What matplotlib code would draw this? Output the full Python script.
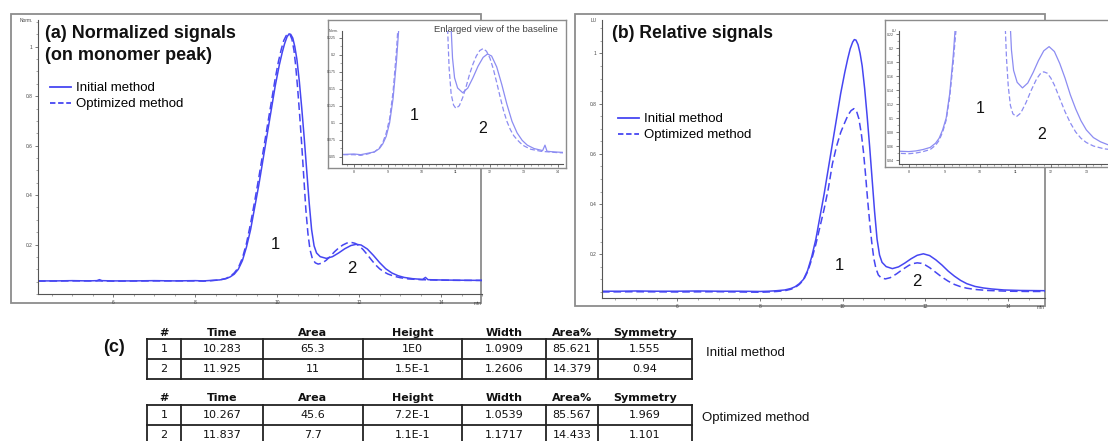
import matplotlib
matplotlib.use("Agg")
import matplotlib.pyplot as plt
from matplotlib.lines import Line2D
from matplotlib.patches import Rectangle
from matplotlib.ticker import MultipleLocator

plt.rcParams['font.family'] = ['Liberation Sans', 'DejaVu Sans']

# ---------------- chromatogram data (time in min, signal) ----------------
# (a) signals normalized on the monomer peak
time_a_initial = [4.16, 4.6, 5.0, 5.4, 5.6, 5.66, 5.72, 6.0, 6.5, 7.0, 7.5, 8.0, 8.2, 8.4,
                  8.6, 8.75, 8.85, 8.95, 9.05, 9.15, 9.25, 9.35, 9.45, 9.55, 9.65, 9.75,
                  9.85, 9.95, 10.05, 10.12, 10.18, 10.24, 10.29, 10.33, 10.38, 10.43,
                  10.48, 10.54, 10.6, 10.66, 10.72, 10.78, 10.84, 10.9, 10.96, 11.05,
                  11.2, 11.35, 11.5, 11.65, 11.8, 11.93, 12.05, 12.2, 12.35, 12.5, 12.65,
                  12.8, 12.95, 13.1, 13.3, 13.55, 13.62, 13.68, 13.9, 14.3, 15.0]
signal_a_initial = [0.053, 0.053, 0.054, 0.053, 0.054, 0.058, 0.054, 0.053, 0.053, 0.054,
                    0.053, 0.054, 0.053, 0.055, 0.057, 0.062, 0.069, 0.080, 0.100, 0.135,
                    0.190, 0.260, 0.350, 0.440, 0.540, 0.640, 0.740, 0.840, 0.925, 0.975,
                    1.012, 1.040, 1.052, 1.050, 1.035, 1.000, 0.950, 0.860, 0.750, 0.630,
                    0.500, 0.370, 0.260, 0.195, 0.166, 0.151, 0.144, 0.151, 0.166, 0.183,
                    0.196, 0.201, 0.198, 0.182, 0.156, 0.127, 0.102, 0.085, 0.074, 0.067,
                    0.062, 0.059, 0.067, 0.058, 0.057, 0.056, 0.055]

time_a_optimized = [4.16, 5.0, 5.6, 6.0, 7.0, 8.0, 8.2, 8.4, 8.6, 8.75, 8.85, 8.95, 9.05,
                    9.15, 9.25, 9.35, 9.45, 9.55, 9.65, 9.75, 9.85, 9.95, 10.03, 10.1,
                    10.16, 10.22, 10.27, 10.31, 10.36, 10.41, 10.45, 10.5, 10.55, 10.6,
                    10.65, 10.7, 10.75, 10.8, 10.86, 10.93, 11.0, 11.1, 11.2, 11.3, 11.4,
                    11.5, 11.6, 11.7, 11.8, 11.9, 12.0, 12.1, 12.2, 12.3, 12.4, 12.5,
                    12.6, 12.7, 12.8, 12.9, 13.0, 13.2, 13.5, 14.0, 14.5, 15.0]
signal_a_optimized = [0.052, 0.053, 0.053, 0.052, 0.053, 0.053, 0.052, 0.054, 0.057, 0.063,
                      0.071, 0.085, 0.106, 0.145, 0.205, 0.285, 0.375, 0.470, 0.570, 0.670,
                      0.770, 0.870, 0.940, 0.990, 1.025, 1.045, 1.052, 1.050, 1.030, 0.985,
                      0.925, 0.830, 0.720, 0.600, 0.470, 0.340, 0.245, 0.180, 0.142, 0.126,
                      0.121, 0.125, 0.137, 0.153, 0.171, 0.186, 0.198, 0.206, 0.209, 0.205,
                      0.195, 0.179, 0.159, 0.138, 0.118, 0.102, 0.090, 0.081, 0.075, 0.070,
                      0.066, 0.061, 0.058, 0.056, 0.055, 0.055]

# (b) relative signals
time_b_initial = [4.18, 4.6, 5.0, 5.5, 6.0, 6.5, 7.0, 7.5, 8.0, 8.2, 8.4, 8.6, 8.75, 8.85,
                  8.95, 9.05, 9.15, 9.25, 9.35, 9.45, 9.55, 9.65, 9.75, 9.85, 9.95, 10.05,
                  10.12, 10.18, 10.24, 10.28, 10.32, 10.37, 10.42, 10.47, 10.53, 10.59,
                  10.65, 10.71, 10.77, 10.83, 10.89, 10.95, 11.05, 11.2, 11.35, 11.5,
                  11.65, 11.8, 11.95, 12.1, 12.25, 12.4, 12.55, 12.7, 12.85, 13.0, 13.2,
                  13.4, 13.6, 13.9, 14.3, 14.9]
signal_b_initial = [0.053, 0.053, 0.054, 0.053, 0.053, 0.054, 0.053, 0.053, 0.052, 0.053,
                    0.055, 0.058, 0.064, 0.071, 0.083, 0.100, 0.135, 0.190, 0.260, 0.350,
                    0.440, 0.540, 0.640, 0.740, 0.840, 0.925, 0.978, 1.018, 1.045, 1.055,
                    1.053, 1.035, 1.000, 0.950, 0.860, 0.750, 0.630, 0.500, 0.370, 0.260,
                    0.197, 0.168, 0.151, 0.143, 0.150, 0.165, 0.182, 0.196, 0.202, 0.195,
                    0.178, 0.157, 0.133, 0.113, 0.096, 0.083, 0.072, 0.066, 0.062, 0.058,
                    0.056, 0.055]

time_b_optimized = [4.18, 5.0, 6.0, 7.0, 8.0, 8.2, 8.4, 8.6, 8.75, 8.85, 8.95, 9.05, 9.15,
                    9.25, 9.35, 9.45, 9.55, 9.65, 9.75, 9.85, 9.95, 10.05, 10.13, 10.2,
                    10.27, 10.33, 10.39, 10.45, 10.5, 10.55, 10.6, 10.65, 10.7, 10.75, 10.8,
                    10.86, 10.93, 11.03, 11.15, 11.3, 11.45, 11.6, 11.7, 11.8, 11.9, 12.0,
                    12.1, 12.25, 12.4, 12.55, 12.7, 12.85, 13.0, 13.2, 13.5, 14.0, 14.5,
                    14.9]
signal_b_optimized = [0.050, 0.051, 0.050, 0.051, 0.049, 0.050, 0.052, 0.055, 0.061, 0.068,
                      0.080, 0.097, 0.130, 0.180, 0.240, 0.310, 0.380, 0.460, 0.560, 0.630,
                      0.685, 0.725, 0.755, 0.772, 0.780, 0.772, 0.740, 0.680, 0.610, 0.520,
                      0.420, 0.330, 0.250, 0.185, 0.145, 0.118, 0.106, 0.102, 0.107, 0.122,
                      0.140, 0.156, 0.163, 0.166, 0.164, 0.157, 0.147, 0.128, 0.109, 0.093,
                      0.080, 0.071, 0.065, 0.060, 0.056, 0.053, 0.052, 0.052]

# (c) peak tables
table_headers = ["#", "Time", "Area", "Height", "Width", "Area%", "Symmetry"]
rows_initial = [["1", "10.283", "65.3", "1E0", "1.0909", "85.621", "1.555"],
                ["2", "11.925", "11", "1.5E-1", "1.2606", "14.379", "0.94"]]
rows_optimized = [["1", "10.267", "45.6", "7.2E-1", "1.0539", "85.567", "1.969"],
                  ["2", "11.837", "7.7", "1.1E-1", "1.1717", "14.433", "1.101"]]
method_labels = ["Initial method", "Optimized method"]

# ---------------- layout helpers ----------------
W, H = 1108, 441
fig = plt.figure(figsize=(W / 100, H / 100), dpi=100)
fig.patch.set_facecolor('white')


def fbox(l, t, r, b):
    return [l / W, 1 - b / H, (r - l) / W, (b - t) / H]


MAIN_BLUE = '#4646f2'
INSET_BLUE = '#8c8cf2'
FRAME_GRAY = '#8c8c8c'

# background layer in pixel coordinates: panel frames, titles, table
bg = fig.add_axes([0, 0, 1, 1])
bg.set_xlim(0, W)
bg.set_ylim(H, 0)
bg.axis('off')
bg.set_zorder(0)

bg.add_patch(Rectangle((11, 14), 470, 289, fill=False, ec=FRAME_GRAY, lw=1.3))
bg.add_patch(Rectangle((575, 14), 470, 292, fill=False, ec=FRAME_GRAY, lw=1.3))


def style_chrom_axes(ax, xlim, ylim, xmajor, xminor, ymajor, yminor, ylabels, ytop_label,
                     fs, xlabels=None, minlabel=True):
    ax.set_facecolor('none')
    ax.set_xlim(*xlim)
    ax.set_ylim(*ylim)
    for s in ('top', 'right'):
        ax.spines[s].set_visible(False)
    for s in ('left', 'bottom'):
        ax.spines[s].set_color('#555555')
        ax.spines[s].set_linewidth(0.8)
    ax.set_xticks(xmajor)
    ax.set_xticklabels(xlabels if xlabels is not None else [str(v) for v in xmajor])
    ax.xaxis.set_minor_locator(MultipleLocator(xminor))
    ax.set_yticks(ymajor)
    ax.set_yticklabels(ylabels)
    ax.yaxis.set_minor_locator(MultipleLocator(yminor))
    ax.tick_params(which='major', direction='out', length=2.5, width=0.5,
                   labelsize=fs, colors='#444444', pad=1.5)
    ax.tick_params(which='minor', direction='out', length=1.5, width=0.4, colors='#666666')
    ax.text(-0.012, 1.0, ytop_label, transform=ax.transAxes, ha='right', va='center',
            fontsize=fs, color='#444444')
    if minlabel:
        ax.text(1.0, -0.025, 'min', transform=ax.transAxes, ha='right', va='top',
                fontsize=fs, color='#444444')


leg_handles = [Line2D([], [], color=MAIN_BLUE, lw=1.3),
               Line2D([], [], color=MAIN_BLUE, lw=1.3, dashes=(3, 1.5))]
leg_style = dict(loc='upper left', bbox_transform=fig.transFigure, frameon=False,
                 fontsize=9.5, handlelength=1.6, handletextpad=0.4, labelspacing=0.3,
                 borderpad=0, borderaxespad=0)

# ---------------- panel (a) ----------------
axa = fig.add_axes(fbox(38, 20, 482, 294))
axa.set_zorder(1)
axa.plot(time_a_initial, signal_a_initial, color=MAIN_BLUE, lw=1.1)
axa.plot(time_a_optimized, signal_a_optimized, color=MAIN_BLUE, lw=1.1, dashes=(5, 2.5))
style_chrom_axes(axa, (4.16, 15.0), (0, 1.108), [6, 8, 10, 12, 14], 0.5,
                 [0.2, 0.4, 0.6, 0.8, 1.0], 0.05, ['0.2', '0.4', '0.6', '0.8', '1'],
                 'Norm.', 3.5)
axa.text(9.95, 0.2, '1', fontsize=12, ha='center', va='center', color='#111111')
axa.text(11.83, 0.105, '2', fontsize=12, ha='center', va='center', color='#111111')

bg.text(45, 33, '(a) Normalized signals', fontsize=13, fontweight='bold',
        ha='left', va='center', color='#111111')
bg.text(45, 56, '(on monomer peak)', fontsize=13, fontweight='bold',
        ha='left', va='center', color='#111111')
axa.legend(leg_handles, method_labels, bbox_to_anchor=(50 / W, 1 - 82 / H), **leg_style)

# inset (a)
fa = fig.add_axes(fbox(328, 20, 566, 168))
fa.set_zorder(2)
fa.set_xticks([])
fa.set_yticks([])
fa.set_facecolor('white')
for s in fa.spines.values():
    s.set_color(FRAME_GRAY)
    s.set_linewidth(1.0)

ia = fig.add_axes(fbox(341.7, 31, 563, 164))
ia.set_zorder(3)
ia.plot(time_a_initial, signal_a_initial, color=INSET_BLUE, lw=0.9)
ia.plot(time_a_optimized, signal_a_optimized, color=INSET_BLUE, lw=0.9, dashes=(4, 2))
style_chrom_axes(ia, (7.64, 14.15), (0.0393, 0.2348), [8, 9, 10, 11, 12, 13, 14], 0.2,
                 [0.05, 0.075, 0.1, 0.125, 0.15, 0.175, 0.2, 0.225], 0.0125,
                 ['0.05', '0.075', '0.1', '0.125', '0.15', '0.175', '0.2', '0.225'],
                 'Norm.', 2.6, minlabel=False)
ia.text(9.76, 0.111, '1', fontsize=11.5, ha='center', va='center', color='#111111')
ia.text(11.79, 0.092, '2', fontsize=11.5, ha='center', va='center', color='#111111')
fa.text(0.965, 0.935, 'Enlarged view of the baseline', transform=fa.transAxes,
        fontsize=6.8, ha='right', va='center', color='#444444', zorder=5)

# ---------------- panel (b) ----------------
axb = fig.add_axes(fbox(602, 20, 1045, 298))
axb.set_zorder(1)
axb.plot(time_b_initial, signal_b_initial, color=MAIN_BLUE, lw=1.1)
axb.plot(time_b_optimized, signal_b_optimized, color=MAIN_BLUE, lw=1.1, dashes=(5, 2.5))
style_chrom_axes(axb, (4.18, 14.89), (0.026, 1.133), [6, 8, 10, 12, 14], 0.5,
                 [0.2, 0.4, 0.6, 0.8, 1.0], 0.05, ['0.2', '0.4', '0.6', '0.8', '1'],
                 'LU', 3.5)
axb.text(9.92, 0.157, '1', fontsize=12, ha='center', va='center', color='#111111')
axb.text(11.79, 0.093, '2', fontsize=12, ha='center', va='center', color='#111111')

bg.text(612, 34, '(b) Relative signals', fontsize=12.7, fontweight='bold',
        ha='left', va='center', color='#111111')
axb.legend(leg_handles, method_labels, bbox_to_anchor=(618 / W, 1 - 113 / H), **leg_style)

# inset (b)
fb = fig.add_axes(fbox(885, 20, 1125, 167))
fb.set_zorder(2)
fb.set_xticks([])
fb.set_yticks([])
fb.set_facecolor('white')
for s in fb.spines.values():
    s.set_color(FRAME_GRAY)
    s.set_linewidth(1.0)

ib = fig.add_axes(fbox(899, 31, 1125, 164))
ib.set_zorder(3)
ib.plot(time_b_initial, signal_b_initial, color=INSET_BLUE, lw=0.9)
ib.plot(time_b_optimized, signal_b_optimized, color=INSET_BLUE, lw=0.9, dashes=(4, 2))
style_chrom_axes(ib, (7.72, 14.09), (0.0343, 0.2243), [8, 9, 10, 11, 12, 13], 0.2,
                 [0.04, 0.06, 0.08, 0.1, 0.12, 0.14, 0.16, 0.18, 0.2, 0.22], 0.01,
                 ['0.04', '0.06', '0.08', '0.1', '0.12', '0.14', '0.16', '0.18', '0.2',
                  '0.22'], 'LU', 2.6, minlabel=False)
ib.text(10.0, 0.114, '1', fontsize=11.5, ha='center', va='center', color='#111111')
ib.text(11.75, 0.076, '2', fontsize=11.5, ha='center', va='center', color='#111111')

# ---------------- panel (c): peak tables ----------------
col_edges = [147, 181, 263, 363, 462, 546, 598, 692]
col_centers = [(a + b) / 2 for a, b in zip(col_edges[:-1], col_edges[1:])]
LINE_C = '#222222'


def draw_table(header_y, top, mid, bottom, rows):
    for cx, h in zip(col_centers, table_headers):
        bg.text(cx, header_y, h, fontsize=8, fontweight='bold', family='DejaVu Sans',
                ha='center', va='center', color='#111111')
    for y in (top, mid, bottom):
        bg.plot([col_edges[0], col_edges[-1]], [y, y], color=LINE_C, lw=1.3,
                solid_capstyle='projecting')
    for x in col_edges:
        bg.plot([x, x], [top, bottom], color=LINE_C, lw=1.3)
    row_centers = [(top + mid) / 2, (mid + bottom) / 2]
    for ry, row in zip(row_centers, rows):
        for cx, val in zip(col_centers, row):
            bg.text(cx, ry + 0.5, val, fontsize=8, family='DejaVu Sans',
                    ha='center', va='center', color='#111111')


draw_table(333, 339, 359, 379, rows_initial)
draw_table(398, 405, 424.5, 444, rows_optimized)
bg.set_xlim(0, W)
bg.set_ylim(H, 0)

bg.text(103, 348, '(c)', fontsize=13, fontweight='bold', ha='left', va='center',
        color='#111111')
bg.text(706, 353, method_labels[0], fontsize=9.5, ha='left', va='center', color='#111111')
bg.text(702, 418, method_labels[1], fontsize=9.5, ha='left', va='center', color='#111111')

fig.savefig('out.png', dpi=100, facecolor='white')
